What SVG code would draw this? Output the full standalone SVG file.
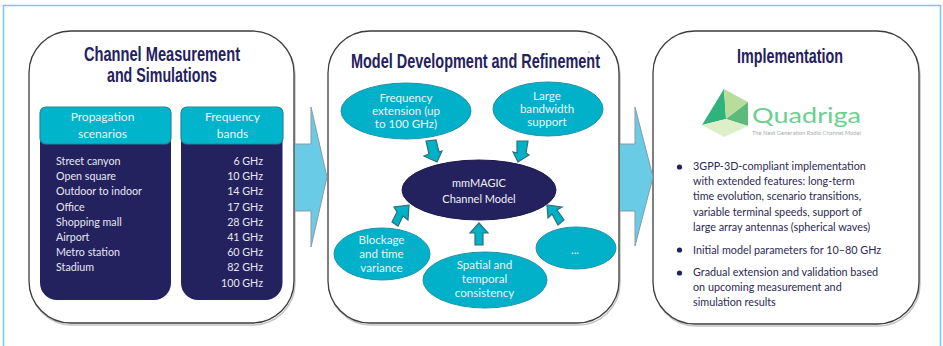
<svg xmlns="http://www.w3.org/2000/svg" width="943" height="346" viewBox="0 0 943 346">
<defs><style>
text{font-family:"Lato","Liberation Sans",sans-serif;}
.panel{fill:#fff;stroke:#3c3c3c;stroke-width:1.3;}
.shadow{fill:none;stroke:#c4c4c4;stroke-width:1.5;}
.title{font-family:"Liberation Sans",Arial,sans-serif;font-weight:700;font-size:20px;fill:#24215f;}
.big{fill:#69cbe6;stroke:#8a9aa0;stroke-width:1;}
.small{fill:#00b2c8;stroke:#2f6f78;stroke-width:1.2;}
.el{fill:#00b1c9;stroke:#1f93a6;stroke-width:1;}
.dark{fill:#24215f;}
.h{fill:#eef2f6;font-size:12px;text-anchor:middle;}
.w{fill:#eef2f6;font-size:11.600px;text-anchor:middle;}
.m{fill:#eef2f6;font-size:11px;text-anchor:middle;}
.l{fill:#e4e7f0;font-size:10.700px;}
.r{fill:#e4e7f0;font-size:10.700px;text-anchor:end;}
.b{fill:#2b2a55;font-size:10.800px;}
</style></defs>
<rect width="943" height="346" fill="#fff"/>
<path d="M3.500 346V5.500H940.500V346" fill="none" stroke="#6fcfe8" stroke-width="1.600"/>
<g id="panel-measurement">
<rect class="shadow" x="30" y="33" width="265" height="292" rx="42"/>
<rect class="panel" x="29" y="31" width="265" height="292" rx="42"/>
<text class="title" x="162" y="61" text-anchor="middle" textLength="156" lengthAdjust="spacingAndGlyphs">Channel Measurement</text>
<text class="title" x="162" y="82" text-anchor="middle" textLength="110" lengthAdjust="spacingAndGlyphs">and Simulations</text>
</g>
<g id="table-scenarios">
<rect class="dark" x="40" y="110" width="131" height="190" rx="17"/>
<rect x="40" y="107" width="131" height="37" rx="6" fill="#00b4cb" stroke="#1d8b9c" stroke-width="1.200"/>
<text class="h" x="102.500" y="121">Propagation</text>
<text class="h" x="102.500" y="138">scenarios</text>
<text class="l" x="56" y="165">Street canyon</text>
<text class="l" x="56" y="180">Open square</text>
<text class="l" x="56" y="195">Outdoor to indoor</text>
<text class="l" x="56" y="211">Office</text>
<text class="l" x="56" y="226">Shopping mall</text>
<text class="l" x="56" y="241">Airport</text>
<text class="l" x="56" y="256">Metro station</text>
<text class="l" x="56" y="271">Stadium</text>
</g>
<g id="table-bands">
<rect class="dark" x="181" y="110" width="101.500" height="190" rx="17"/>
<rect x="181" y="107" width="102" height="37" rx="6" fill="#00b4cb" stroke="#1d8b9c" stroke-width="1.200"/>
<text class="h" x="232.500" y="121">Frequency</text>
<text class="h" x="232.500" y="138">bands</text>
<text class="r" x="263" y="165">6 GHz</text>
<text class="r" x="263" y="180">10 GHz</text>
<text class="r" x="263" y="195">14 GHz</text>
<text class="r" x="263" y="211">17 GHz</text>
<text class="r" x="263" y="226">28 GHz</text>
<text class="r" x="263" y="241">41 GHz</text>
<text class="r" x="263" y="256">60 GHz</text>
<text class="r" x="263" y="271">82 GHz</text>
<text class="r" x="263" y="287">100 GHz</text>
</g>
<g id="panel-model">
<rect class="shadow" x="329" y="33" width="291" height="292" rx="42"/>
<rect class="panel" x="328" y="31" width="291" height="292" rx="42"/>
<text class="title" x="475.500" y="68" text-anchor="middle" textLength="249" lengthAdjust="spacingAndGlyphs">Model Development and Refinement</text>
<circle cx="589" cy="52" r="0.600" fill="#24215f"/>
</g>
<g id="node-frequency">
<ellipse class="el" cx="406" cy="111" rx="65" ry="28"/>
<text class="w" x="406" y="102">Frequency</text>
<text class="w" x="406" y="115">extension (up</text>
<text class="w" x="406" y="128">to 100 GHz)</text>
</g>
<g id="node-bandwidth">
<ellipse class="el" cx="548" cy="109" rx="55" ry="27"/>
<text class="w" x="547" y="100">Large</text>
<text class="w" x="547" y="113">bandwidth</text>
<text class="w" x="547" y="126">support</text>
</g>
<g id="node-channel">
<ellipse cx="479" cy="190" rx="77" ry="30" fill="#24215f" stroke="#1c1a4a"/>
<text class="m" x="479" y="187">mmMAGIC</text>
<text class="m" x="479" y="203">Channel Model</text>
</g>
<g id="node-blockage">
<ellipse class="el" cx="382" cy="254" rx="48" ry="26"/>
<text class="w" x="381.500" y="244">Blockage</text>
<text class="w" x="381.500" y="258">and time</text>
<text class="w" x="381.500" y="271.500">variance</text>
</g>
<g id="node-spatial">
<ellipse class="el" cx="485" cy="280" rx="62" ry="28"/>
<text class="w" x="484.500" y="269">Spatial and</text>
<text class="w" x="484.500" y="283">temporal</text>
<text class="w" x="484.500" y="297">consistency</text>
</g>
<g id="node-more">
<ellipse class="el" cx="576" cy="248" rx="40" ry="21"/>
<text class="w" x="575" y="254">...</text>
</g>
<g id="panel-implementation">
<rect class="shadow" x="654" y="33" width="266" height="293" rx="42"/>
<rect class="panel" x="653" y="31" width="266" height="293" rx="42"/>
<text class="title" x="790" y="63" text-anchor="middle" textLength="106" lengthAdjust="spacingAndGlyphs">Implementation</text>
<polygon points="724,89 702,125 726,119" fill="#2fb27c"/>
<polygon points="724,89 748,102 736,111 726,119" fill="#b9dc9c"/>
<polygon points="748,102 748,126 726,119" fill="#5cbb7c"/>
<polygon points="702,125 726,119 748,126 724,137" fill="#dcefc8"/>
<text x="752" y="123" font-size="22" textLength="109" lengthAdjust="spacingAndGlyphs" fill="#6ccf8f">Quadriga</text>
<text x="752" y="135" font-size="5.500" textLength="109" lengthAdjust="spacingAndGlyphs" fill="#a8aeb0">The Next Generation Radio Channel Model</text>
<circle cx="679.500" cy="167" r="2.600" fill="#24215f"/>
<circle cx="679.500" cy="250" r="2.600" fill="#24215f"/>
<circle cx="679.500" cy="273" r="2.600" fill="#24215f"/>
<text class="b" x="693" y="170">3GPP-3D-compliant implementation</text>
<text class="b" x="693" y="185">with extended features: long-term</text>
<text class="b" x="693" y="200">time evolution, scenario transitions,</text>
<text class="b" x="693" y="216">variable terminal speeds, support of</text>
<text class="b" x="693" y="231">large array antennas (spherical waves)</text>
<text class="b" x="693" y="254">Initial model parameters for 10–80 GHz</text>
<text class="b" x="693" y="276">Gradual extension and validation based</text>
<text class="b" x="693" y="291">on upcoming measurement and</text>
<text class="b" x="693" y="306">simulation results</text>
</g>
<g id="connectors">
<path class="big" d="M295 144H311V107L327 177L311 247V211H295"/>
<path class="big" d="M620 144H635V107L653 177L635 246V211H620"/>
<path class="small" d="M426 141L436 140L439 152L442 151L437 162L424 156L429 154Z"/>
<path class="small" d="M517 141H528L526 153L529 155L518 162L513 152L517 153Z"/>
<path class="small" d="M409 205L394 207L397 212L392 222L398 226L403 216L408 220Z"/>
<path class="small" d="M479 223L470 233H475V245H483V233H488Z"/>
<path class="small" d="M547 205L548 218L552 214L558 225L564 220L557 210L562 207Z"/>
</g>
</svg>
